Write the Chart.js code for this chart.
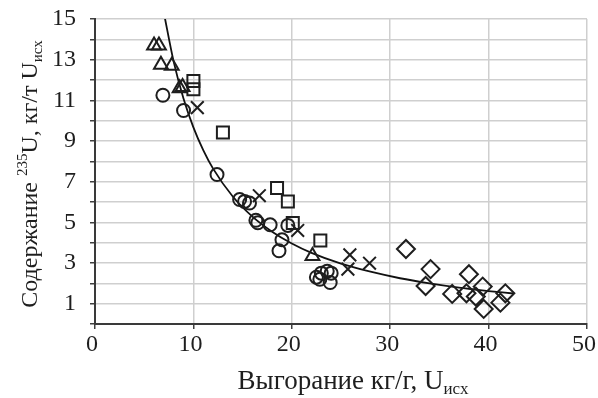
<!DOCTYPE html>
<html>
<head>
<meta charset="utf-8">
<script src="https://cdn.jsdelivr.net/npm/chart.js@4.4.1/dist/chart.umd.min.js"></script>
<style>
  html, body { margin: 0; padding: 0; background: #ffffff; }
  #wrap { width: 598px; height: 398px; position: relative; }
</style>
</head>
<body>
<div id="wrap"><canvas id="c" width="598" height="398"></canvas></div>
<script>
// ---- data ----
const triangleX = [6.0, 6.5, 6.7, 7.8, 8.6, 8.9, 22.1];
const triangleY = [13.7, 13.7, 12.75, 12.7, 11.6, 11.65, 3.35];

const squareX = [10.0, 10.0, 13.0, 18.5, 19.6, 20.1, 22.9];
const squareY = [11.95, 11.55, 9.42, 6.69, 6.03, 4.97, 4.11];

const circleX = [6.9, 9.0, 12.4, 14.7, 15.2, 15.7, 16.35, 16.55, 17.8, 19.0, 18.7, 19.6, 22.5, 22.85, 23.0, 23.6, 24.0, 23.9];
const circleY = [11.25, 10.5, 7.35, 6.12, 6.03, 5.95, 5.1, 4.98, 4.88, 4.14, 3.6, 4.85, 2.3, 2.2, 2.5, 2.6, 2.5, 2.04];

const crossX = [10.4, 16.7, 20.6, 25.9, 25.7, 27.9];
const crossY = [10.64, 6.31, 4.6, 3.4, 2.7, 2.99];

const diamondX = [31.6, 34.1, 33.6, 36.3, 38.0, 37.75, 39.4, 38.7, 39.5, 41.2, 41.7];
const diamondY = [3.69, 2.7, 1.87, 1.48, 2.45, 1.51, 1.84, 1.35, 0.74, 1.05, 1.51];

// trend curve, values
const curveX = [7.0, 8, 9, 10, 11, 12, 14, 16, 18, 20, 22, 25, 28, 31, 34, 37, 40, 42.5];
const curveY = [15.3, 12.89, 11.08, 9.67, 8.55, 7.64, 6.27, 5.28, 4.54, 3.96, 3.50, 2.97, 2.57, 2.25, 2.00, 1.79, 1.62, 1.50];

const xTicks = [0, 10, 20, 30, 40, 50];
const yTickLabels = [1, 3, 5, 7, 9, 11, 13, 15];

const xTitleParts = [{ text: 'Выгорание кг/г, U' }, { text: 'исх', sub: true }];
const yTitleParts = [{ text: 'Содержание ' }, { text: '235', sup: true }, { text: 'U, кг/т U' }, { text: 'исх', sub: true }];

// ---- helpers ----
function pts(xs, ys) { return xs.map((x, i) => ({ x: x, y: ys[i] })); }

const FONT = "'Liberation Serif', 'Times New Roman', serif";
const INK = '#1e1e1e';

function drawRich(ctx, parts, cx, cy, angle, mainSize, smallSize) {
  ctx.save();
  ctx.translate(cx, cy);
  ctx.rotate(angle);
  ctx.fillStyle = INK;
  ctx.textBaseline = 'alphabetic';
  ctx.textAlign = 'left';
  const fontOf = p => ((p.sub || p.sup) ? smallSize : mainSize) + 'px ' + FONT;
  let total = 0;
  const widths = parts.map(p => { ctx.font = fontOf(p); const w = ctx.measureText(p.text).width; total += w; return w; });
  let x = -total / 2;
  parts.forEach((p, i) => {
    ctx.font = fontOf(p);
    let dy = 0;
    if (p.sup) dy = -mainSize * 0.42;
    if (p.sub) dy = mainSize * 0.2;
    ctx.fillText(p.text, x, dy);
    x += widths[i];
  });
  ctx.restore();
}

const titlePlugin = {
  id: 'richTitles',
  afterDraw(chart) {
    const ctx = chart.ctx;
    drawRich(ctx, xTitleParts, 353, 389, 0, 27, 17);
    drawRich(ctx, yTitleParts, 37, 174, -Math.PI / 2, 24, 15);
  }
};

const markerBase = {
  showLine: false,
  backgroundColor: 'rgba(0,0,0,0)',
  borderColor: INK,
  borderWidth: 2,
  pointBorderWidth: 2,
  pointBackgroundColor: 'rgba(0,0,0,0)',
  pointBorderColor: INK,
  pointHoverRadius: 0
};

new Chart(document.getElementById('c'), {
  type: 'scatter',
  data: {
    datasets: [
      Object.assign({}, markerBase, { label: 'fit', data: pts(curveX, curveY), showLine: true, pointRadius: 0, borderColor: '#111', borderWidth: 1.8, cubicInterpolationMode: 'monotone', order: 10 }),
      Object.assign({}, markerBase, { label: 'triangle', data: pts(triangleX, triangleY), pointStyle: 'triangle', pointRadius: 8 }),
      Object.assign({}, markerBase, { label: 'square', data: pts(squareX, squareY), pointStyle: 'rect', pointRadius: 8.5 }),
      Object.assign({}, markerBase, { label: 'circle', data: pts(circleX, circleY), pointStyle: 'circle', pointRadius: 6.5 }),
      Object.assign({}, markerBase, { label: 'cross', data: pts(crossX, crossY), pointStyle: 'crossRot', pointRadius: 9 }),
      Object.assign({}, markerBase, { label: 'diamond', data: pts(diamondX, diamondY), pointStyle: 'rectRot', pointRadius: 9 })
    ]
  },
  options: {
    responsive: false,
    animation: false,
    events: [],
    layout: { padding: { left: 0, right: 11, top: 19, bottom: 0 } },
    plugins: { legend: { display: false }, tooltip: { enabled: false }, title: { display: false } },
    scales: {
      x: {
        type: 'linear',
        min: 0, max: 50,
        afterBuildTicks: s => { s.ticks = xTicks.map(v => ({ value: v })); },
        afterFit: s => { s.height = 74; s.paddingLeft = 0; s.paddingRight = 0; },
        ticks: { color: INK, font: { family: FONT, size: 24 }, padding: 1, labelOffset: -3, maxRotation: 0, autoSkip: false },
        grid: { color: '#cfcfcf', lineWidth: 1.5, tickColor: '#404040', tickLength: 5, tickWidth: 1.5 },
        border: { color: '#3a3a3a', width: 2 }
      },
      y: {
        type: 'linear',
        min: 0, max: 15,
        ticks: {
          stepSize: 1,
          autoSkip: false,
          color: INK,
          font: { family: FONT, size: 24 },
          padding: 14,
          callback: v => (yTickLabels.includes(v) ? String(v) : '')
        },
        afterFit: s => { s.width = 95; s.paddingTop = 0; s.paddingBottom = 0; },
        grid: { color: '#cfcfcf', lineWidth: 1.5, tickColor: '#404040', tickLength: 5, tickWidth: 1.5 },
        border: { color: '#3a3a3a', width: 2 }
      }
    }
  },
  plugins: [titlePlugin]
});
</script>
</body>
</html>
